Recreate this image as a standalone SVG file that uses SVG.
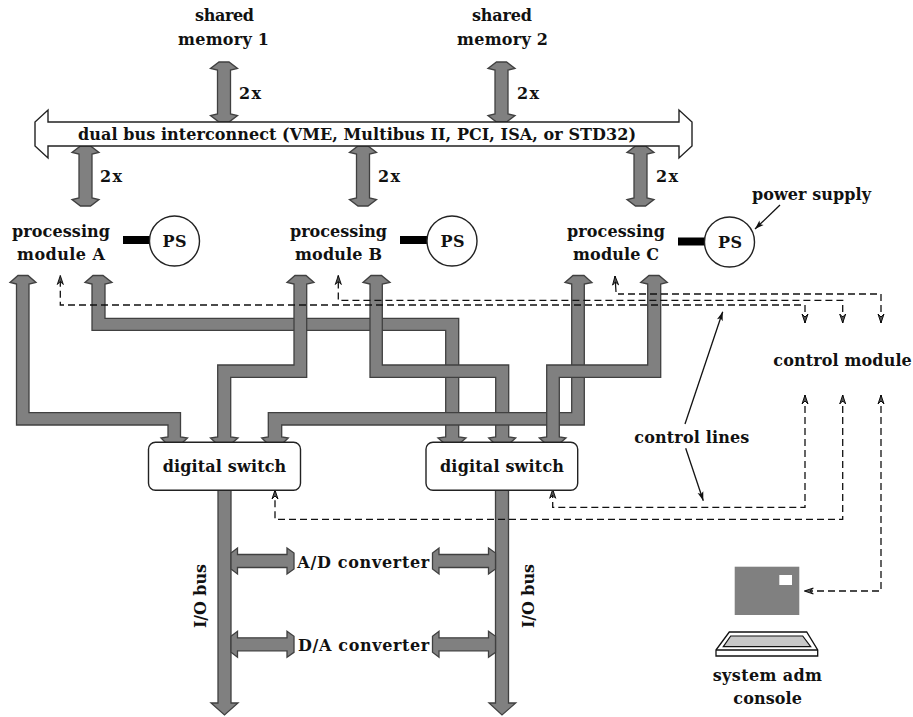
<svg xmlns="http://www.w3.org/2000/svg" width="913" height="717" viewBox="0 0 913 717">
<style>
text{font-family:"DejaVu Serif","Liberation Serif",serif;font-weight:700;font-size:16px;fill:#111}
.thick{fill:#808080;stroke:#404040;stroke-width:1.3;stroke-linejoin:miter}
.dash{fill:none;stroke:#111;stroke-width:1.3;stroke-dasharray:7 4;marker-end:url(#dh);marker-start:url(#dhs)}
.solid{fill:none;stroke:#111;stroke-width:1.3;marker-end:url(#sh)}
.box{fill:#fff;stroke:#222;stroke-width:1.4}
.ps{fill:#fff;stroke:#222;stroke-width:1.4}
.bar{fill:#000}
</style>
<defs>
<marker id="dh" markerUnits="userSpaceOnUse" orient="auto" markerWidth="12" markerHeight="10" refX="10" refY="5" viewBox="0 0 12 10"><path d="M1,2 L10,5 L1,8 L4,5 Z" fill="#555" stroke="#000" stroke-width=".9"/></marker>
<marker id="dhs" markerUnits="userSpaceOnUse" orient="auto-start-reverse" markerWidth="12" markerHeight="10" refX="10" refY="5" viewBox="0 0 12 10"><path d="M1,2 L10,5 L1,8 L4,5 Z" fill="#555" stroke="#000" stroke-width=".9"/></marker>
<marker id="sh" markerUnits="userSpaceOnUse" orient="auto" markerWidth="12" markerHeight="10" refX="10" refY="5" viewBox="0 0 12 10"><path d="M1,2 L10,5 L1,8 L3,5 Z" fill="#111"/></marker>
<path id="dv" class="thick" d="M-5,0 H5 L13.5,6.5 L6.5,8 V52 L13.5,53.5 L5,60 H-5 L-13.5,53.5 L-6.5,52 V8 L-13.5,6.5 Z"/>
<path id="ad" class="thick" d="M0,-8 L6.5,-13 V-6.5 H56 V-13 L63,-8 V8 L56,13 V6.5 H6.5 V13 L0,8 Z"/>
</defs>
<rect width="913" height="717" fill="#fff"/>

<g id="connectors">
<use href="#dv" x="224" y="62"/>
<use href="#dv" x="501.5" y="62"/>
<use href="#dv" x="85.5" y="146"/>
<use href="#dv" x="363" y="146"/>
<use href="#dv" x="640.5" y="146"/>

<path class="thick" d="M16.5,284 L10,282.5 L18,275.5 H28 L36,282.5 L29,284 V412.7 H180.5 V437 L187.5,438 L182,443 H166 L161,438 L168,437 V425 H16.5 Z"/>
<path class="thick" d="M92,284 L85,282.5 L93,275.5 H103 L112,282.5 L105,284 V318.3 H458.7 V437 L466,438 L460,443 H444 L438,438 L445.7,437 V330.3 H92 Z"/>
<path class="thick" d="M294,284 L287,282.5 L295,275.5 H306 L314,282.5 L306.7,284 V377.3 H230.7 V437 L238,438 L232,443 H216 L210.5,438 L217.7,437 V365 H294 Z"/>
<path class="thick" d="M370,284 L363,282.5 L371,275.5 H381.5 L390,282.5 L382.3,284 V365 H508.7 V437 L515.7,438 L510,443 H494 L488.7,438 L495.7,437 V377.3 H370 Z"/>
<path class="thick" d="M571.7,284 L565,282.5 L573,275.5 H584 L592,282.5 L584.3,284 V425 H281.7 V437 L288.3,438 L283,443 H267 L261.7,438 L268.3,437 V412.7 H571.7 Z"/>
<path class="thick" d="M647.7,284 L640.7,282.5 L649,275.5 H659 L667.3,282.5 L660.7,284 V377.3 H559.3 V437 L566,438 L560,443 H545 L539.3,438 L546.7,437 V365 H647.7 Z"/>

<path class="thick" d="M218,490 H231 V703 L238,703 L224.5,715 L211,703 L218,703 Z"/>
<path class="thick" d="M495.5,490 H508.5 V703 L515.7,703 L502,715 L489,703 L495.5,703 Z"/>

<use href="#ad" x="231" y="561"/>
<use href="#ad" x="432.5" y="561"/>
<use href="#ad" x="231" y="644.3"/>
<use href="#ad" x="432.5" y="644.3"/>

<path class="dash" d="M805,323 V305 H60.3 V275.5"/>
<path class="dash" d="M842.7,323 V300.3 H338.3 V275.5"/>
<path class="dash" d="M881,323 V294 H618" style="marker-end:none"/>
<path class="dash" d="M616,292 L615,276" style="stroke-dasharray:none;marker-start:none"/>
<path class="dash" d="M805,395 V507.3 H552.7 V489.3"/>
<path class="dash" d="M842.7,395 V519.3 H275 V490"/>
<path class="dash" d="M881,395 V591 H804.3"/>

<path class="solid" d="M780,205 L755,229"/>
<path class="solid" d="M685,424 L722.7,311.7"/>
<path class="solid" d="M685.7,448.3 L703.3,500.7"/>
</g>

<g id="shared-memory-1">
<text x="195" y="21.4" textLength="59">shared</text>
<text x="178" y="44.7" textLength="91">memory 1</text>
</g>
<g id="shared-memory-2">
<text x="472" y="21.4" textLength="60">shared</text>
<text x="457" y="44.7" textLength="91">memory 2</text>
</g>
<g id="labels-2x">
<text x="239" y="98.7" textLength="22">2x</text>
<text x="517" y="98.7" textLength="22">2x</text>
<text x="100" y="182.4" textLength="22">2x</text>
<text x="378" y="182.4" textLength="22">2x</text>
<text x="656" y="182.4" textLength="22">2x</text>
</g>
<g id="dual-bus">
<path class="box" d="M48,122 H679 V110 L692,122 V146 L679,158 V146 H48 V158 L35,146 V122 L48,110 Z"/>
<text x="78" y="139.7" textLength="558">dual bus interconnect (VME, Multibus II, PCI, ISA, or STD32)</text>
</g>
<g id="module-a">
<text x="12" y="236.7" textLength="98">processing</text>
<text x="17" y="259.7" textLength="88">module A</text>
<rect class="bar" x="123" y="236" width="27" height="8"/>
<circle class="ps" cx="174.5" cy="241" r="25"/>
<text x="162.5" y="246.7" textLength="24">PS</text>
</g>
<g id="module-b">
<text x="290" y="236.7" textLength="97">processing</text>
<text x="295" y="259.7" textLength="87">module B</text>
<rect class="bar" x="400" y="236" width="27" height="8"/>
<circle class="ps" cx="452" cy="241" r="25"/>
<text x="440.5" y="246.7" textLength="24">PS</text>
</g>
<g id="module-c">
<text x="567" y="236.7" textLength="98">processing</text>
<text x="573" y="259.7" textLength="86">module C</text>
<rect class="bar" x="678" y="237.5" width="27" height="8"/>
<circle class="ps" cx="729.5" cy="242" r="25"/>
<text x="718" y="247.7" textLength="24">PS</text>
</g>
<g id="power-supply-label">
<text x="752" y="199.7" textLength="119">power supply</text>
</g>
<g id="switch-1">
<rect class="box" x="148.5" y="442.3" width="152" height="48" rx="7"/>
<text x="162.7" y="472.4" textLength="123.5">digital switch</text>
</g>
<g id="switch-2">
<rect class="box" x="426" y="442.3" width="151.7" height="48" rx="7"/>
<text x="440" y="472.4" textLength="124">digital switch</text>
</g>
<g id="control-module">
<text x="773.3" y="365.7" textLength="138.5">control module</text>
</g>
<g id="control-lines-label">
<text x="634.3" y="443.4" textLength="115">control lines</text>
</g>
<g id="ad-converter">
<text x="297.3" y="568.4" textLength="132">A/D converter</text>
</g>
<g id="da-converter">
<text x="298" y="650.7" textLength="131.3">D/A converter</text>
</g>
<g id="io-bus-1">
<text transform="translate(205.5,628) rotate(-90)" textLength="64">I/O bus</text>
</g>
<g id="io-bus-2">
<text transform="translate(534,628) rotate(-90)" textLength="64">I/O bus</text>
</g>
<g id="console">
<rect x="734.7" y="566.7" width="64.6" height="48.3" fill="#808080"/>
<rect x="779.3" y="575" width="12.7" height="10" fill="#fff"/>
<path d="M716,650 L729.3,632 H806.7 L817.7,650 V656 H716 Z" fill="#fff" stroke="#111" stroke-width="1.3"/>
<path d="M716,650 H817.7" fill="none" stroke="#111" stroke-width="1.3"/>
<path d="M723.3,646.7 L730.7,636 H802.7 L810.7,646.7 Z" fill="#c8c8c8" stroke="#111" stroke-width="1.2"/>
<text x="712.7" y="680.7" textLength="109.3">system adm</text>
<text x="733.3" y="703.7" textLength="68.7">console</text>
</g>
</svg>
